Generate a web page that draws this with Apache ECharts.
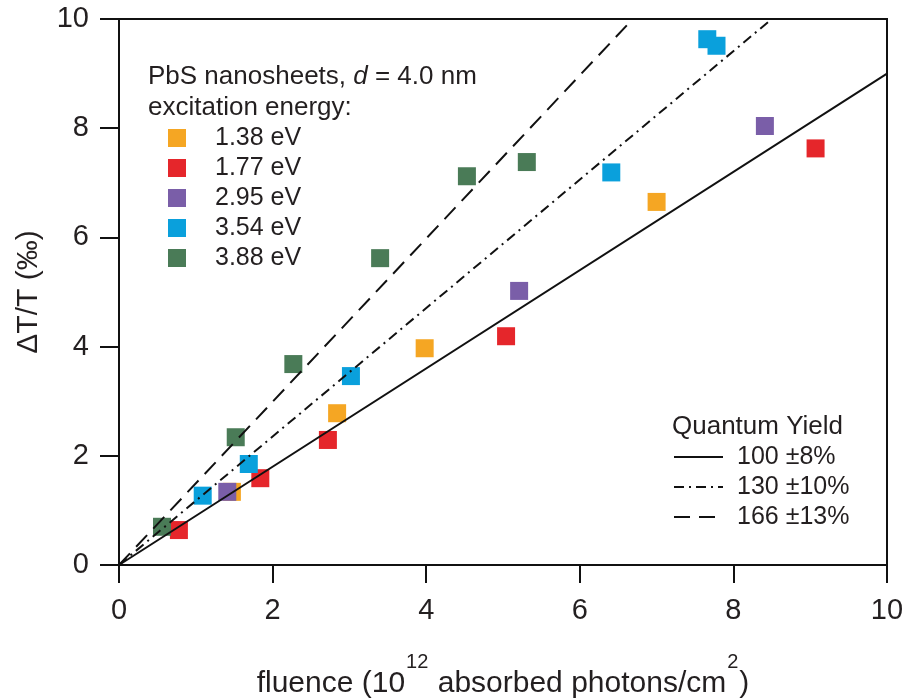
<!DOCTYPE html>
<html><head><meta charset="utf-8">
<script src="https://cdn.jsdelivr.net/npm/echarts@6/dist/echarts.min.js"></script>
<style>html,body{margin:0;padding:0;background:#fff}#c{width:909px;height:698px}</style>
</head><body><div id="c"></div>
<script>
const FONT = '"Liberation Sans", Arial, sans-serif';
const TXT = '#231f20';
const energyNames = ['1.38 eV', '1.77 eV', '2.95 eV', '3.54 eV', '3.88 eV'];
const energyColors = ['#f5a623', '#e5262b', '#7a5ea8', '#0aa0dc', '#4a7b57'];
const pts138 = [[1.47, 1.34], [2.84, 2.78], [3.98, 3.97], [7.0, 6.65]];
const pts177 = [[0.78, 0.64], [1.84, 1.59], [2.72, 2.29], [5.04, 4.19], [9.07, 7.63]];
const pts295 = [[1.41, 1.34], [5.21, 5.02], [8.41, 8.04]];
const pts354 = [[1.09, 1.27], [1.69, 1.85], [3.02, 3.46], [6.41, 7.19], [7.66, 9.63], [7.78, 9.51]];
const pts388 = [[0.56, 0.70], [1.52, 2.34], [2.27, 3.68], [3.40, 5.62], [4.53, 7.12], [5.31, 7.38]];
const pointSets = [pts138, pts177, pts295, pts354, pts388];
const fitNames = ['100 \u00b18%', '130 \u00b110%', '166 \u00b113%'];
const fitLines = [
  [[0, 0], [10, 9.0]],
  [[0, 0], [8.5, 10]],
  [[0, 0], [6.69, 10]]
];
const fitDash = ['solid', [10, 5, 2, 5], [16, 9]];
const xTicks = [0, 2, 4, 6, 8, 10];
const yTicks = [0, 2, 4, 6, 8, 10];

const chart = echarts.init(document.getElementById('c'));
const series = [];
pointSets.forEach((d, i) => series.push({
  name: energyNames[i], type: 'scatter', data: d, symbol: 'rect', symbolSize: 18,
  itemStyle: { color: energyColors[i], opacity: 1 }, z: 2
}));
fitLines.forEach((d, i) => series.push({
  name: fitNames[i], type: 'line', data: d, symbol: 'none', z: 3,
  lineStyle: { color: '#111', width: 2, type: fitDash[i] }, itemStyle: { color: '#111' }
}));
chart.setOption({
  animation: false,
  textStyle: { fontFamily: FONT },
  grid: { left: 119, top: 19, right: 22, bottom: 133, containLabel: false, outerBoundsMode: 'none',
    show: true, borderColor: '#111', borderWidth: 2, backgroundColor: 'transparent' },
  xAxis: {
    type: 'value', min: 0, max: 10, interval: 2,
    axisLine: { lineStyle: { color: '#111', width: 2 } },
    axisTick: { inside: false, length: 18, lineStyle: { color: '#111', width: 2 } },
    splitLine: { show: false },
    axisLabel: { color: TXT, fontSize: 29, margin: 31, fontFamily: FONT, formatter: v => xTicks.includes(v) ? String(v) : '' },
    name: '{n|fluence (10}{s|12}{n| absorbed photons/cm}{s|2}{n|)}',
    nameLocation: 'middle', nameGap: 100,
    nameTextStyle: {
      rich: {
        n: { fontSize: 30, color: TXT, fontFamily: FONT, verticalAlign: 'bottom', lineHeight: 34 },
        s: { fontSize: 20, color: TXT, fontFamily: FONT, verticalAlign: 'bottom', lineHeight: 20, padding: [0, 1, 27, 1] }
      }
    }
  },
  yAxis: {
    type: 'value', min: 0, max: 10, interval: 2,
    axisLine: { lineStyle: { color: '#111', width: 2 } },
    axisTick: { inside: false, length: 19, lineStyle: { color: '#111', width: 2 } },
    splitLine: { show: false },
    axisLabel: { color: TXT, fontSize: 29, margin: 30, fontFamily: FONT, formatter: v => yTicks.includes(v) ? String(v) : '' },
    name: '\u0394T/T (\u2030)', nameLocation: 'middle', nameGap: 75, nameRotate: 90,
    nameTextStyle: { color: TXT, fontSize: 30, fontFamily: FONT }
  },
  legend: [
    {
      data: energyNames, orient: 'vertical', left: 163, top: 118, itemGap: 0,
      itemWidth: 18, itemHeight: 18, icon: 'rect', selectedMode: false,
      textStyle: { color: TXT, fontSize: 25, fontFamily: FONT, lineHeight: 30, padding: [0, 0, 0, 24] }
    },
    {
      data: fitNames, orient: 'vertical', left: 668, top: 437, itemGap: 0,
      itemWidth: 49, itemHeight: 18, selectedMode: false,
      itemStyle: { color: 'transparent', borderColor: 'transparent', borderWidth: 0 },
      textStyle: { color: TXT, fontSize: 25, fontFamily: FONT, lineHeight: 30, padding: [0, 0, 0, 9] }
    }
  ],
  graphic: [
    { type: 'text', x: 148, y: 77, style: { text: '{n|PbS nanosheets, }{i|d}{n| = 4.0 nm}', verticalAlign: 'middle', rich: {
      n: { fontSize: 26, fill: TXT, fontFamily: FONT }, i: { fontSize: 26, fill: TXT, fontFamily: FONT, fontStyle: 'italic' } } } },
    { type: 'text', x: 148, y: 108, style: { text: 'excitation energy:', verticalAlign: 'middle', fontSize: 26, fill: TXT, fontFamily: FONT } },
    { type: 'text', x: 672, y: 427, style: { text: 'Quantum Yield', verticalAlign: 'middle', fontSize: 26, fill: TXT, fontFamily: FONT } }
  ],
  series: series
});
</script></body></html>
